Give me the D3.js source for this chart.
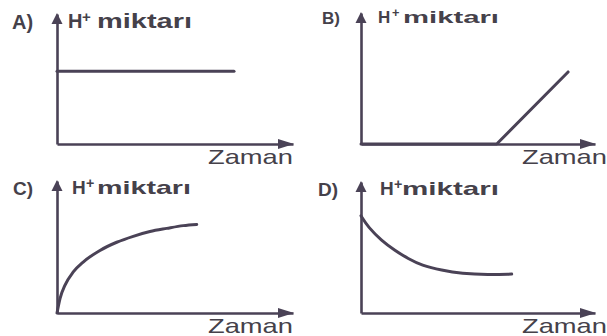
<!DOCTYPE html>
<html>
<head>
<meta charset="utf-8">
<script src="https://cdn.jsdelivr.net/npm/d3@7"></script>
<style>
  html, body { margin: 0; padding: 0; background: #fff; }
  svg { display: block; }
  text { font-family: "Liberation Sans", Arial, sans-serif; fill: #45414a; }
</style>
</head>
<body>
<svg id="chart" width="607" height="336"></svg>
<script>
// Panel letters and axis titles
const panelLetters = ["A)", "B)", "C)", "D)"];
const yTitleMain = "H";
const yTitleSup = "+";
const yTitleRest = "miktarı";
const xTitle = "Zaman";

// H+ amount over time for each option (time 0–10, amount 0–10)
const seriesA = [[0, 5.6], [7.5, 5.6]];
const seriesB = [[0, 0], [5.8, 0], [8.85, 5.5]];
const seriesC = [[0, 0], [0.13, 1.11], [0.34, 2.11], [0.69, 3.11], [1.11, 3.86], [1.82, 4.74], [2.53, 5.36], [3.23, 5.81], [3.94, 6.17], [4.65, 6.41], [5.35, 6.62], [5.92, 6.71]];
const seriesD = [[0, 7.42], [0.31, 6.54], [0.88, 5.53], [1.45, 4.77], [2.02, 4.14], [2.59, 3.64], [3.45, 3.26], [4.3, 3.01], [5.44, 2.92], [6.44, 2.97]];
const allSeries = [seriesA, seriesB, seriesC, seriesD];

// Layout of the four small panels (origin, axis ends, label placement)
const panels = [
  { ox: 57,  oy: 144, xEnd: 293, yEnd: 14,  letterX: 12,  letterY: 29,  fs: 20, hX: 68,  mX: 97,  mEnd: 192, lblY: 28,  zX: 208, zY: 164 },
  { ox: 361, oy: 144, xEnd: 595, yEnd: 13,  letterX: 322, letterY: 24,  fs: 17, hX: 378, mX: 403, mEnd: 499, lblY: 23,  zX: 522, zY: 164 },
  { ox: 57,  oy: 313, xEnd: 293, yEnd: 181, letterX: 13,  letterY: 195, fs: 19, hX: 72,  mX: 97,  mEnd: 191, lblY: 194, zX: 208, zY: 333 },
  { ox: 361, oy: 313, xEnd: 595, yEnd: 182, letterX: 318, letterY: 196, fs: 19, hX: 380, mX: 402, mEnd: 499, lblY: 195, zX: 522, zY: 333 }
];

const ink = "#4a4256";
const curves = [d3.curveLinear, d3.curveLinear, d3.curveMonotoneX, d3.curveBasis];
const svg = d3.select("#chart");

panels.forEach((p, i) => {
  const g = svg.append("g");
  const x = d3.scaleLinear().domain([0, 10]).range([p.ox, p.xEnd]);
  const y = d3.scaleLinear().domain([0, 10]).range([p.oy, p.yEnd]);

  // axis lines (no ticks)
  const xAxis = g.append("g").attr("transform", `translate(0,${p.oy})`)
    .call(d3.axisBottom(x).tickValues([]).tickSize(0).tickSizeOuter(0));
  const yAxis = g.append("g").attr("transform", `translate(${p.ox},0)`)
    .call(d3.axisLeft(y).tickValues([]).tickSize(0).tickSizeOuter(0));
  [xAxis, yAxis].forEach(a => a.select(".domain")
    .attr("stroke", ink).attr("stroke-width", 2.6));

  // arrow heads at the axis ends
  const tx = x(10), ty = y(10);
  g.append("polygon")
    .attr("points", [[tx + 1, p.oy], [tx - 15, p.oy - 5], [tx - 15, p.oy + 5]].join(" "))
    .style("fill", ink);
  g.append("polygon")
    .attr("points", [[p.ox, ty - 1], [p.ox - 5.5, ty + 10], [p.ox + 5.5, ty + 10]].join(" "))
    .style("fill", ink);

  // data line
  const line = d3.line()
    .x(d => x(d[0])).y(d => y(d[1]))
    .curve(curves[i]);
  g.append("path")
    .datum(allSeries[i])
    .attr("d", line)
    .attr("fill", "none")
    .attr("stroke", ink)
    .attr("stroke-width", 3)
    .attr("stroke-linejoin", "round")
    .attr("stroke-linecap", "round");

  // labels
  g.append("text")
    .attr("x", p.letterX).attr("y", p.letterY)
    .attr("font-size", p.fs).attr("font-weight", 600)
    .text(panelLetters[i]);
  g.append("text")
    .attr("x", p.hX).attr("y", p.lblY)
    .attr("font-size", p.fs).attr("font-weight", 600)
    .text(yTitleMain);
  g.append("text")
    .attr("x", p.hX + 14).attr("y", p.lblY - 6)
    .attr("font-size", p.fs * 0.75).attr("font-weight", 700)
    .text(yTitleSup);
  g.append("text")
    .attr("x", p.mX).attr("y", p.lblY)
    .attr("font-size", p.fs).attr("font-weight", 700)
    .attr("textLength", p.mEnd - p.mX).attr("lengthAdjust", "spacingAndGlyphs")
    .text(yTitleRest);
  g.append("text")
    .attr("x", p.zX).attr("y", p.zY)
    .attr("font-size", 21)
    .attr("textLength", 85).attr("lengthAdjust", "spacingAndGlyphs")
    .text(xTitle);
});
</script>
</body>
</html>
